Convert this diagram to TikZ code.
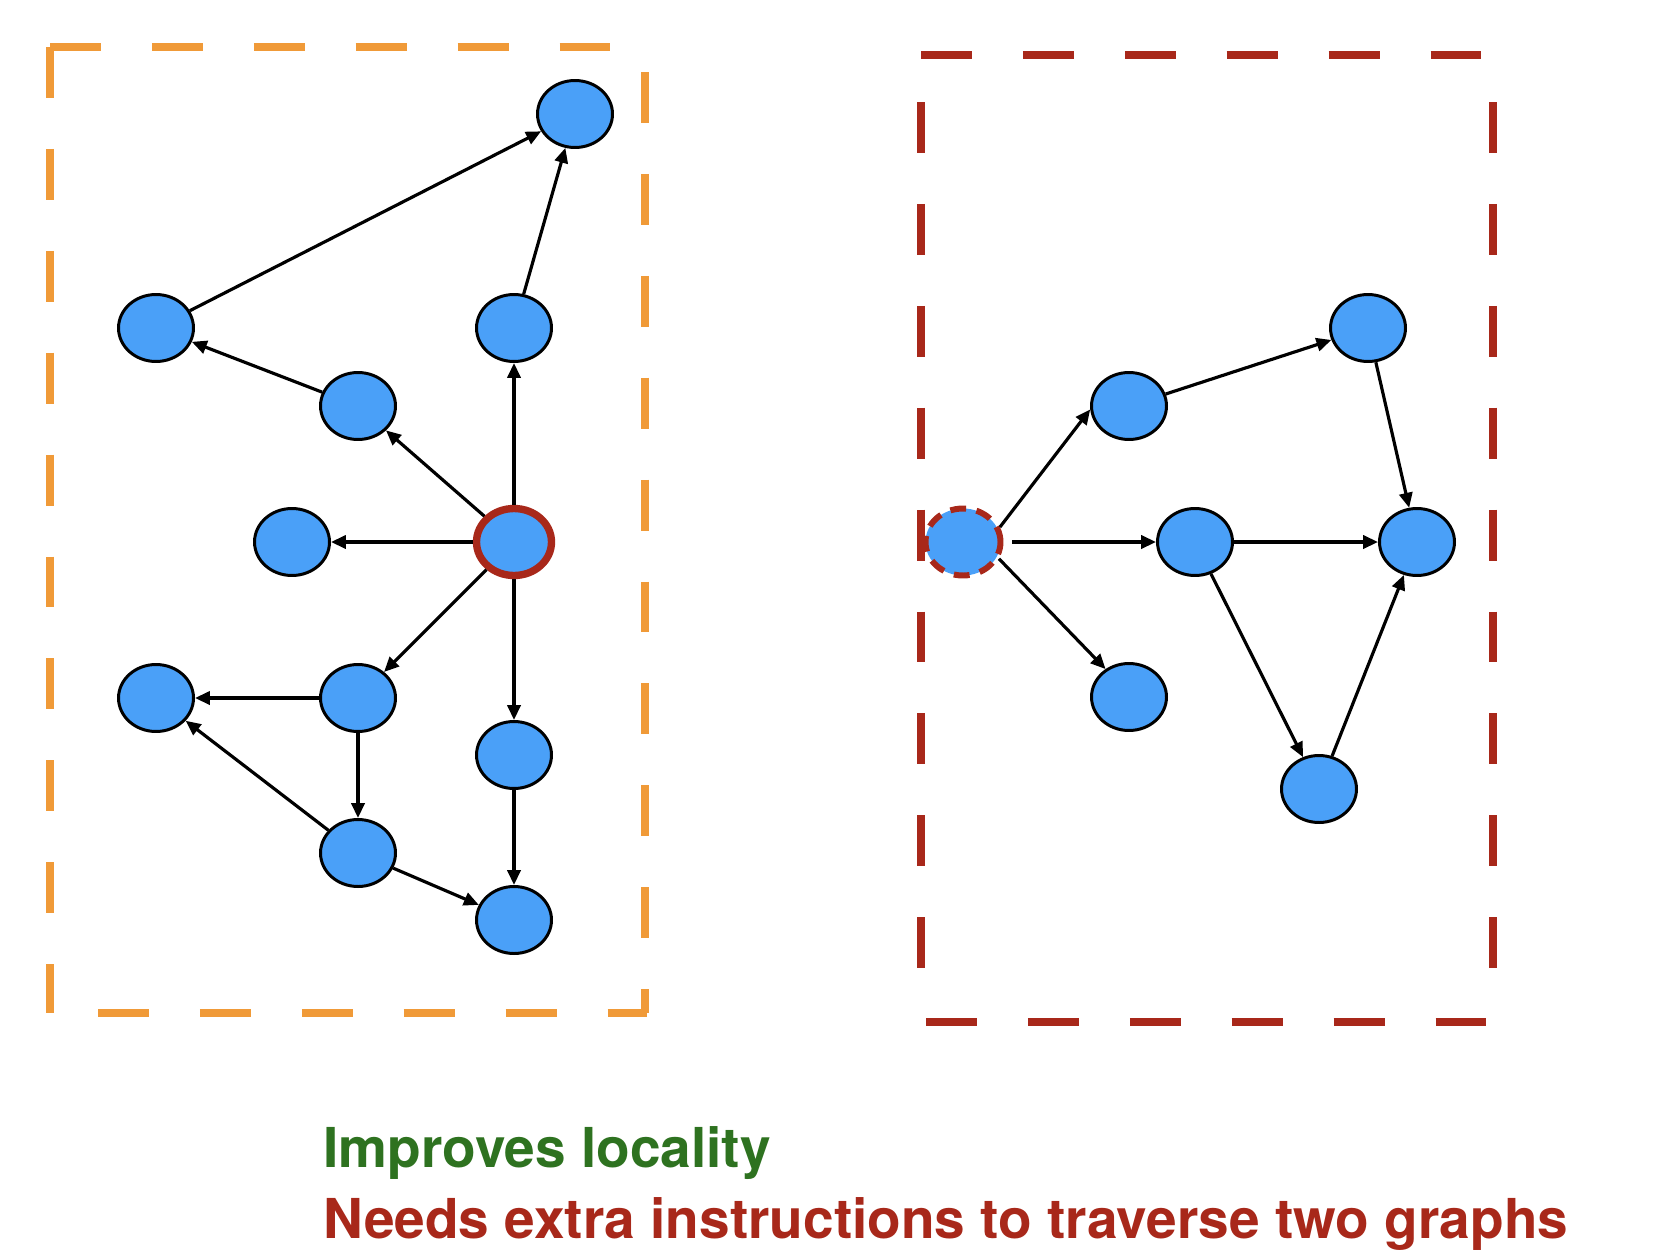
\documentclass[tikz,border=0pt]{standalone}
\usepackage{fontspec}
\setmainfont{TeX Gyre Heros}
\usetikzlibrary{shapes.geometric,arrows.meta}
\definecolor{vertblue}{HTML}{4AA0F8}
\definecolor{boxorange}{HTML}{F09A38}
\definecolor{boxred}{HTML}{A8281A}
\definecolor{locgreen}{HTML}{2E7220}
\begin{document}
\begin{tikzpicture}[x=0.02cm,y=-0.02cm,
  vert/.style={ellipse,draw=black,line width=1.7pt,fill=vertblue,
    minimum width=1.5cm,minimum height=1.34cm,inner sep=0pt},
  edge/.style={-{Triangle[length=8.5pt,width=7.5pt]},line width=1.8pt},
  frame/.style={line width=4.8pt,dash pattern=on 29pt off 29pt}]
\useasboundingbox (0,0) rectangle (1676,1254);
% left box
\draw[frame,boxorange] (50,47) -- (615,47);
\draw[frame,boxorange] (50,47) -- (50,1013);
\draw[frame,boxorange] (645,72) -- (645,1013);
\draw[frame,boxorange] (98,1013) -- (647,1013);
% right box
\draw[frame,boxred] (921,55) -- (1486,55);
\draw[frame,boxred] (921,102) -- (921,975);
\draw[frame,boxred] (1493,102) -- (1493,975);
\draw[frame,boxred] (926,1022) -- (1489,1022);
% left graph
\node[vert] (top) at (575,114) {};
\node[vert] (far) at (156,328) {};
\node[vert] (up) at (514,328) {};
\node[vert] (mid) at (358,406) {};
\node[vert] (west) at (292,542) {};
\node[vert,draw=boxred,line width=4.2pt] (src) at (514,542) {};
\node[vert] (low) at (156,698) {};
\node[vert] (hub) at (358,698) {};
\node[vert] (down) at (514,755) {};
\node[vert] (dip) at (358,853) {};
\node[vert] (sink) at (514,920) {};
\draw[edge] (far) -- (top);
\draw[edge] (up) -- (top);
\draw[edge] (mid) -- (far);
\draw[edge] (src) -- (mid);
\draw[edge] (src) -- (up);
\draw[edge] (src) -- (west);
\draw[edge] (src) -- (hub);
\draw[edge] (src) -- (down);
\draw[edge] (hub) -- (low);
\draw[edge] (hub) -- (dip);
\draw[edge] (dip) -- (low);
\draw[edge] (dip) -- (sink);
\draw[edge] (down) -- (sink);
% right graph
\node[vert,draw=boxred,line width=3.4pt,dash pattern=on 9pt off 6pt] (ghost) at (963,542) {};
\node[vert] (r1) at (1129,406) {};
\node[vert] (r2) at (1368,328) {};
\node[vert] (r3) at (1195,542) {};
\node[vert] (r4) at (1417,542) {};
\node[vert] (r5) at (1129,697) {};
\node[vert] (r6) at (1319,789) {};
\draw[edge] (ghost.22) -- (r1.185);
\draw[edge,shorten <=5pt] (ghost) -- (r3);
\draw[edge] (ghost.-25) -- (r5.130);
\draw[edge] (r1) -- (r2);
\draw[edge] (r2) -- (r4);
\draw[edge] (r3) -- (r4);
\draw[edge] (r3) -- (r6);
\draw[edge] (r6) -- (r4);
% notes
\node[anchor=base west,inner sep=0pt,text=locgreen,font=\fontsize{31.3}{37}\selectfont\bfseries] (good) at (323,1167) {Improves locality};
\node[anchor=base west,inner sep=0pt,text=boxred,font=\fontsize{31.3}{37}\selectfont\bfseries] (bad) at (323,1238) {Needs extra instructions to traverse two graphs};
\end{tikzpicture}
\end{document}
